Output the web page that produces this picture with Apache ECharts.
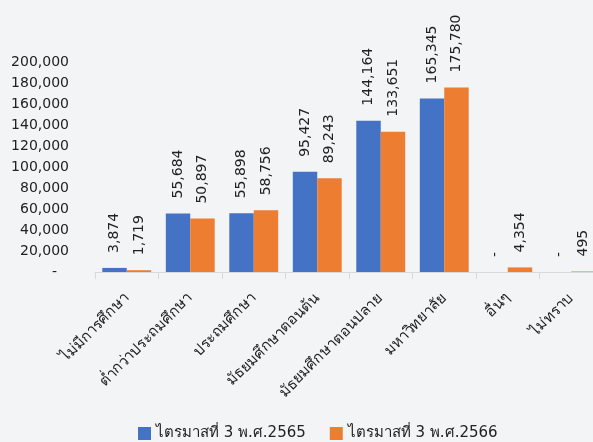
<!DOCTYPE html>
<html><head><meta charset="utf-8">
<script src="https://cdn.jsdelivr.net/npm/echarts@6/dist/echarts.min.js"></script>
<style>html,body{margin:0;padding:0;background:#f3f4f6;overflow:hidden;}#c{width:606px;height:442px;}</style>
</head><body><div id="c"></div>
<script>
const categories = ['ไม่มีการศึกษา','ต่ำกว่าประถมศึกษา','ประถมศึกษา','มัธยมศึกษาตอนต้น','มัธยมศึกษาตอนปลาย','มหาวิทยาลัย','อื่นๆ','ไม่ทราบ'];
const seriesNames = ['ไตรมาสที่ 3 พ.ศ.2565','ไตรมาสที่ 3 พ.ศ.2566'];
const values2565 = [3874, 55684, 55898, 95427, 144164, 165345, 0, 0];
const values2566 = [1719, 50897, 58756, 89243, 133651, 175780, 4354, 495];
const yTicks = {min: 0, max: 200000, interval: 20000};

const FONT = '"DejaVu Sans", sans-serif';
const fmt = v => v === 0 ? '-' : v.toLocaleString('en-US');
const chart = echarts.init(document.getElementById('c'));
const lbl = {
  show: true, position: 'top', rotate: 90, distance: 15, align: 'left', verticalAlign: 'middle',
  color: '#222', fontSize: 14, fontFamily: FONT,
  formatter: p => fmt(p.value)
};
chart.setOption({
  backgroundColor: '#f3f4f6',
  animation: false,
  textStyle: {fontFamily: FONT},
  grid: {left: 95, right: 3, top: 62, bottom: 170, containLabel: false},
  legend: {
    top: 421, left: 133, itemWidth: 13, itemHeight: 13, itemGap: 24,
    icon: 'rect',
    textStyle: {fontSize: 15, color: '#222', fontFamily: FONT},
    data: seriesNames
  },
  xAxis: {
    type: 'category', data: categories,
    axisLine: {lineStyle: {color: '#d9d9d9'}},
    axisTick: {show: true, length: 7, lineStyle: {color: '#d9d9d9'}},
    axisLabel: {rotate: 45, interval: 0, fontSize: 15, color: '#222', margin: 24, fontFamily: FONT}
  },
  yAxis: {
    type: 'value', min: yTicks.min, max: yTicks.max, interval: yTicks.interval,
    splitLine: {show: false}, axisLine: {show: false}, axisTick: {show: false},
    axisLabel: {
      fontSize: 14, color: '#222', margin: 26, fontFamily: FONT,
      formatter: v => v === 0 ? '{d|-}' : v.toLocaleString('en-US'),
      rich: {d: {padding: [0, 12, 0, 0], fontSize: 14, color: '#222'}}
    }
  },
  series: [
    {name: seriesNames[0], type: 'bar', data: values2565, barGap: '0%', barCategoryGap: '23%',
     itemStyle: {color: '#4472c4'}, label: lbl},
    {name: seriesNames[1], type: 'bar', data: values2566, barGap: '0%', barCategoryGap: '23%',
     itemStyle: {color: '#ed7d31'}, label: lbl}
  ]
});
</script></body></html>
